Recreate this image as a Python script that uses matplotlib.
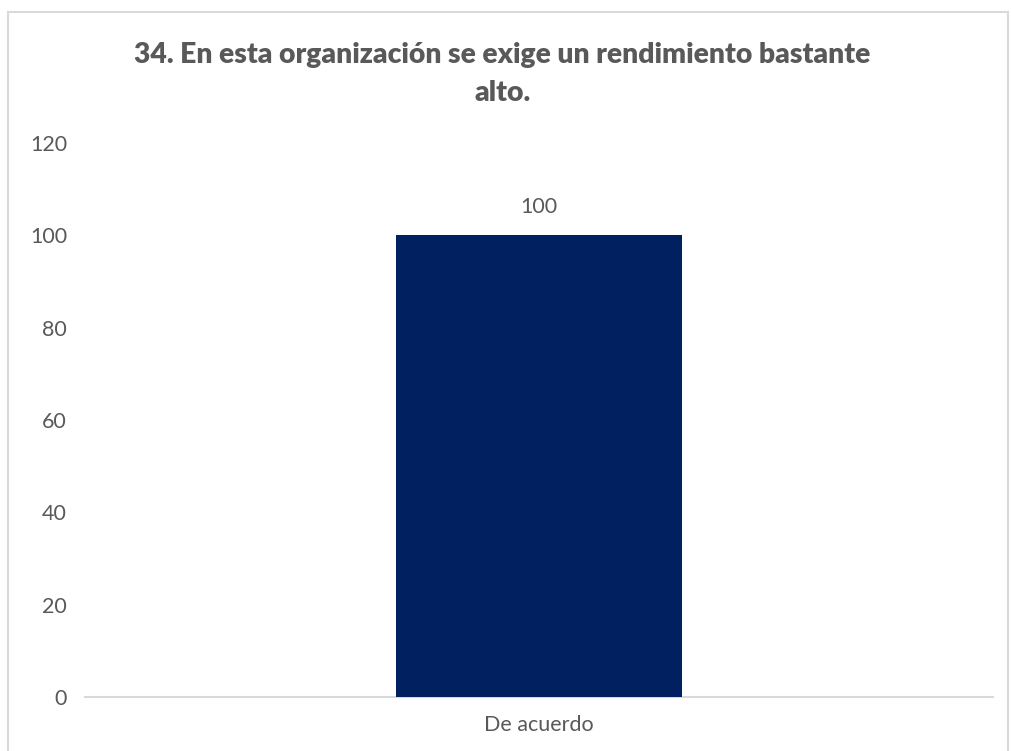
import matplotlib
matplotlib.use("Agg")
import matplotlib.pyplot as plt
from matplotlib.patches import Rectangle

categories = ["De acuerdo"]
values = [100]
yticks = [0, 20, 40, 60, 80, 100, 120]
title = "34. En esta organización se exige un rendimiento bastante\nalto."

plt.rcParams['font.family'] = ['Lato', 'DejaVu Sans']
gray = '#595959'

fig = plt.figure(figsize=(10.11, 7.51), dpi=100)
ax = fig.add_axes([85/1011, 1-697/751, 908/1011, (697-143)/751])

bars = ax.bar(range(len(categories)), values, width=0.314, color='#002060', zorder=3)
ax.set_xlim(-0.5, len(categories)-0.5)
ax.set_ylim(0, 120)
ax.set_yticks(yticks)
ax.set_yticklabels([str(t) for t in yticks], fontsize=15.5, color=gray)
ax.set_xticks(range(len(categories)))
ax.set_xticklabels(categories, fontsize=15.5, color=gray)
ax.tick_params(axis='both', length=0)
ax.tick_params(axis='y', pad=13)
ax.tick_params(axis='x', pad=13)
for s in ['top', 'right', 'left']:
    ax.spines[s].set_visible(False)
ax.spines['bottom'].set_color('#d9d9d9')
ax.spines['bottom'].set_linewidth(1.5)

for b, v in zip(bars, values):
    ax.annotate(str(v), (b.get_x()+b.get_width()/2, v), xytext=(0, 13),
                textcoords='offset points', ha='center', va='bottom',
                fontsize=15.5, color=gray)

fig.text(0.497, 1-74/751, title, ha='center', va='center', fontsize=20.3,
         fontweight='heavy', color=gray, linespacing=1.6)

fig.patches.append(Rectangle((8/1011, -0.01), 1000/1011, 1-12/751+0.01,
                             transform=fig.transFigure, fill=False,
                             edgecolor='#d9d9d9', linewidth=1.5))

fig.savefig('out.png', dpi=100)
